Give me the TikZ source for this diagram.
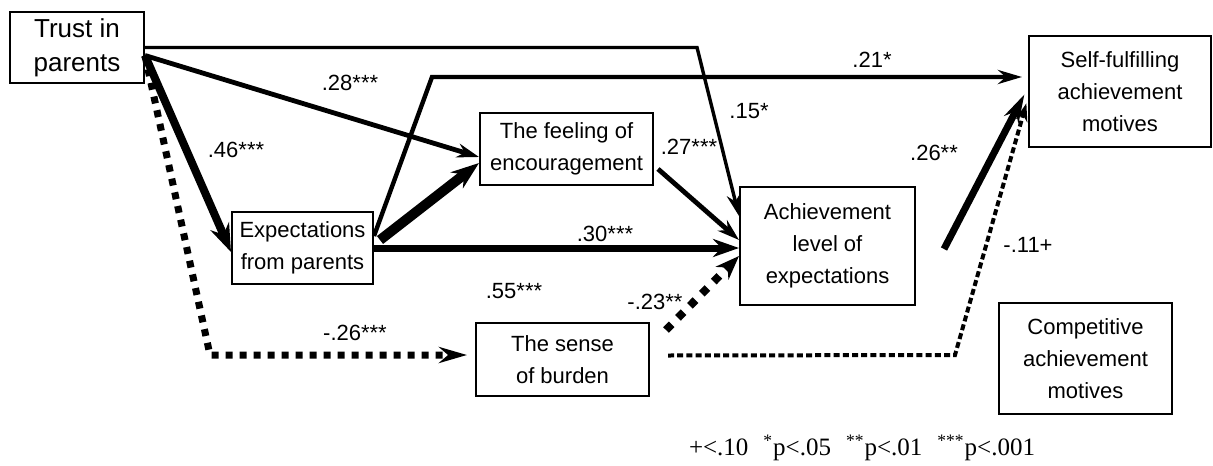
\documentclass[tikz,border=0pt]{standalone}
\usepackage{fontspec}
\setmainfont{Liberation Sans}
\newfontfamily\legendfont{Liberation Serif}
\usetikzlibrary{arrows.meta}

\begin{document}
\begin{tikzpicture}[x=0.5pt,y=-0.5pt,>={Stealth[length=11pt,width=7pt]},
  box/.style={draw,line width=1pt,align=center,inner sep=0pt,font=\fontsize{11}{16}\selectfont},
  lbl/.style={inner sep=0pt,font=\fontsize{11}{13}\selectfont},
  big/.style={-{Stealth[length=14pt,width=10pt]}},
  dots/.style={line width=3.5pt,dash pattern=on 3.5pt off 3.5pt},
  fine dots/.style={line width=2pt,dash pattern=on 3pt off 1.6pt}]
 \useasboundingbox (0,0) rectangle (1213,465);
 % boxes
 \node[box,minimum width=67pt,minimum height=35.5pt,font=\fontsize{13}{17}\selectfont] (trust) at (77,47.5) {Trust in\\parents};
 \node[box,minimum width=86.5pt,minimum height=36pt] (feel) at (566.5,149) {The feeling of\\encouragement};
 \node[box,minimum width=70.5pt,minimum height=36pt] (expect) at (302.5,248) {Expectations\\from parents};
 \node[box,minimum width=87.5pt,minimum height=59pt] (ach) at (827.5,246) {Achievement\\level of\\expectations};
 \node[box,minimum width=91pt,minimum height=55.5pt] (self) at (1120,91.5) {Self-fulfilling\\achievement\\motives};
 \node[box,minimum width=86.5pt,minimum height=55.5pt] (comp) at (1085.5,358.5) {Competitive\\achievement\\motives};
 \node[box,minimum width=86.5pt,minimum height=36.5pt] (burden) at (562.5,359.5) {The sense\\of burden};
 % bends
 \coordinate (k1) at (697,47.5);
 \coordinate (k2) at (432,77);
 \coordinate (k3) at (955,355);
 \coordinate (k4) at (210,355);
 % paths
 \draw[->,line width=1.7pt] (trust.east) -- (k1) -- ([yshift=15pt]ach.west);
 \draw[->,line width=2.4pt] ([yshift=-4pt]trust.east) -- ([yshift=-4pt]feel.west);
 \draw[big,line width=4pt] ([yshift=-4pt]trust.east) -- ([yshift=-2pt]expect.west);
 \draw[dots,-{Stealth[length=14pt,width=8pt]},shorten >=4pt] ([yshift=-4pt]trust.east) -- (k4) -- (k4 -| burden.west);
 \draw[-{Stealth[length=12pt,width=7pt]},line width=2.2pt,shorten >=3pt] ([yshift=6pt]expect.east) -- (k2) -- (k2 -| self.west);
 \draw[big,line width=5pt] ([xshift=3pt,yshift=4pt]expect.east) -- ([yshift=-7pt]feel.west);
 \draw[-{Stealth[length=13pt,width=9pt]},line width=3.5pt] (expect.east) -- (expect.east -| ach.west);
 \draw[->,line width=2.4pt] ([xshift=2pt,yshift=-10pt]feel.east) -- ([yshift=3pt]ach.west);
 \draw[-{Stealth[length=12pt,width=9pt]},line width=4pt,dash pattern=on 4pt off 4.5pt] ([xshift=8pt,yshift=-4pt]burden.north east) -- ([yshift=-5pt]ach.west);
 \draw[-{Stealth[length=14pt,width=8pt]},line width=3.5pt,shorten >=4pt] ([xshift=14pt,yshift=-1.5pt]ach.east) -- ([yshift=2pt]self.west);
 \draw[fine dots,-{Stealth[length=9pt,width=6pt]},shorten >=3pt] ([xshift=9pt,yshift=2pt]burden.east) -- (k3) -- ([yshift=-3pt]self.west);
 % coefficients
 \node[lbl] (l28) at (350,83) {.28***};
 \node[lbl] (l46) at (236,150) {.46***};
 \node[lbl] (l15) at (749,111) {.15*};
 \node[lbl] (l27) at (689,147) {.27***};
 \node[lbl] (l21) at (872,60) {.21*};
 \node[lbl] (l26) at (934,153) {.26**};
 \node[lbl] (l11) at (1028,245) {-.11+};
 \node[lbl] (l30) at (605,234) {.30***};
 \node[lbl] (l55) at (514,291) {.55***};
 \node[lbl] (l23) at (655,302) {-.23**};
 \node[lbl] (l26b) at (355,333) {-.26***};
 % legend
 \node[inner sep=0pt,font=\legendfont\fontsize{12.5}{14}\selectfont] (legend) at (862,448)
  {+<.10\hspace{0.6em}\textsuperscript{*}p<.05\hspace{0.6em}\textsuperscript{**}p<.01\hspace{0.6em}\textsuperscript{***}p<.001};
\end{tikzpicture}
\end{document}
